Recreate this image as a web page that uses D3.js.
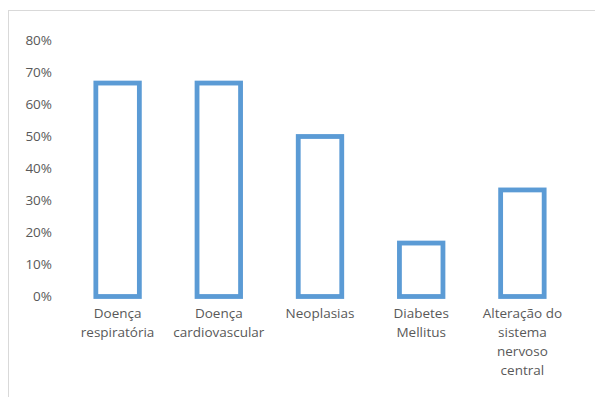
<!DOCTYPE html>
<html>
<head>
<meta charset="utf-8">
<script src="https://cdn.jsdelivr.net/npm/d3@7"></script>
<style>
  body { margin: 0; background: #fff; }
  text { font-family: "Open Sans", "Liberation Sans", sans-serif; fill: #595959; }
</style>
</head>
<body>
<svg width="595" height="397"></svg>
<script>
// chart data
var categories = [
    ["Doença", "respiratória"],
    ["Doença", "cardiovascular"],
    ["Neoplasias"],
    ["Diabetes", "Mellitus"],
    ["Alteração do", "sistema", "nervoso", "central"]
];
var values = [0.667, 0.667, 0.50, 0.167, 0.333];
var yTicks = [0, 0.1, 0.2, 0.3, 0.4, 0.5, 0.6, 0.7, 0.8];

var svg = d3.select("svg");

// chart frame, clipped at right and bottom like the original
svg.append("rect")
    .attr("x", 8.5)
    .attr("y", 10.5)
    .attr("width", 600)
    .attr("height", 400)
    .attr("fill", "none")
    .attr("stroke", "#d9d9d9")
    .attr("stroke-width", 1);

var x = d3.scaleBand()
    .domain(d3.range(categories.length))
    .range([67, 573])
    .paddingInner(0.57)
    .paddingOuter(0.285);

var y = d3.scaleLinear().domain([0, 0.8]).range([296.5, 40.5]);

// y axis labels
svg.append("g").selectAll("text")
    .data(yTicks)
    .enter().append("text")
    .attr("x", 52)
    .attr("y", function(d) { return y(d); })
    .attr("dy", "0.35em")
    .attr("text-anchor", "end")
    .attr("font-size", "13.5px")
    .text(d3.format(".0%"));

// bars, outlined only
svg.append("g").selectAll("rect")
    .data(values)
    .enter().append("rect")
    .attr("x", function(d, i) { return x(i); })
    .attr("y", function(d) { return y(d); })
    .attr("width", x.bandwidth())
    .attr("height", function(d) { return y(0) - y(d); })
    .attr("fill", "#fff")
    .attr("stroke", "#5b9bd5")
    .attr("stroke-width", 4.8);

// category labels
var lab = svg.append("g").selectAll("text")
    .data(categories)
    .enter().append("text")
    .attr("x", function(d, i) { return x(i) + x.bandwidth() / 2; })
    .attr("y", 318)
    .attr("dy", "0.35em")
    .attr("text-anchor", "middle")
    .attr("font-size", "13.5px");

lab.selectAll("tspan")
    .data(function(d) { return d; })
    .enter().append("tspan")
    .attr("x", function() { return d3.select(this.parentNode).attr("x"); })
    .attr("dy", function(d, j) { return j === 0 ? 0 : 19; })
    .text(function(d) { return d; });
</script>
</body>
</html>
